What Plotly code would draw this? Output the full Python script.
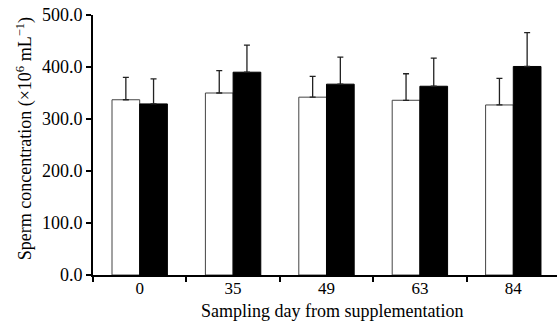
import plotly.graph_objects as go

days = ["0", "35", "49", "63", "84"]
control = [337, 350, 342, 336, 327]
control_err = [43, 43, 40, 51, 51]
treated = [329, 390, 367, 363, 401]
treated_err = [48, 52, 52, 54, 65]
y_ticks = [0, 100, 200, 300, 400, 500]

FONT = "Liberation Serif"
W, H = 557, 326
ml, mt = 93, 14.5
mb = H - 275
mr = 0
PW, PH = W - ml, H - mt - mb

fig = go.Figure()
fig.add_trace(go.Bar(
    x=days, y=control, name="Control",
    marker=dict(color="white", line=dict(color="#444", width=1)),
    error_y=dict(type="data", array=control_err, arrayminus=[0]*5, symmetric=False,
                 color="#222", thickness=1.3, width=3),
))
fig.add_trace(go.Bar(
    x=days, y=treated, name="Supplemented",
    marker=dict(color="black", line=dict(color="black", width=1)),
    error_y=dict(type="data", array=treated_err, arrayminus=[0]*5, symmetric=False,
                 color="#222", thickness=1.3, width=3),
))

fig.update_layout(
    width=W, height=H, autosize=False,
    margin=dict(l=ml, r=mr, t=mt, b=mb, pad=0, autoexpand=False),
    paper_bgcolor="white", plot_bgcolor="white",
    barmode="group", bargap=0.407, bargroupgap=0,
    showlegend=False,
    font=dict(family=FONT, size=17, color="black"),
    xaxis=dict(
        type="category", range=[-0.5, 4.468], automargin=False,
        showline=True, linecolor="black", linewidth=2,
        ticks="outside", tickson="boundaries", ticklen=5, tickwidth=2, tickcolor="black",
        showgrid=False, zeroline=False, ticklabelstandoff=-3,
        tickfont=dict(family=FONT, size=17),
    ),
    yaxis=dict(
        range=[0, 500], tickvals=y_ticks, tickformat=".1f", automargin=False,
        showline=True, linecolor="black", linewidth=2,
        ticks="outside", ticklen=5, tickwidth=2, tickcolor="black",
        showgrid=False, zeroline=False,
        tickfont=dict(family=FONT, size=18),
    ),
    annotations=[
        dict(text="Sampling day from supplementation", xref="paper", yref="paper",
             x=(331.7 - ml) / PW, y=(275 - 311) / PH,
             showarrow=False, xanchor="center", yanchor="middle",
             font=dict(family=FONT, size=18)),
        dict(text="Sperm concentration (×10<sup>6</sup> mL<sup>−1</sup>)",
             xref="paper", yref="paper",
             x=(25 - ml) / PW, y=(275 - 139) / PH,
             showarrow=False, xanchor="center", yanchor="middle", textangle=-90,
             font=dict(family=FONT, size=18)),
    ],
)

fig.write_html("out.html", config={"displayModeBar": False},
               post_script="document.body.style.margin='0';")
